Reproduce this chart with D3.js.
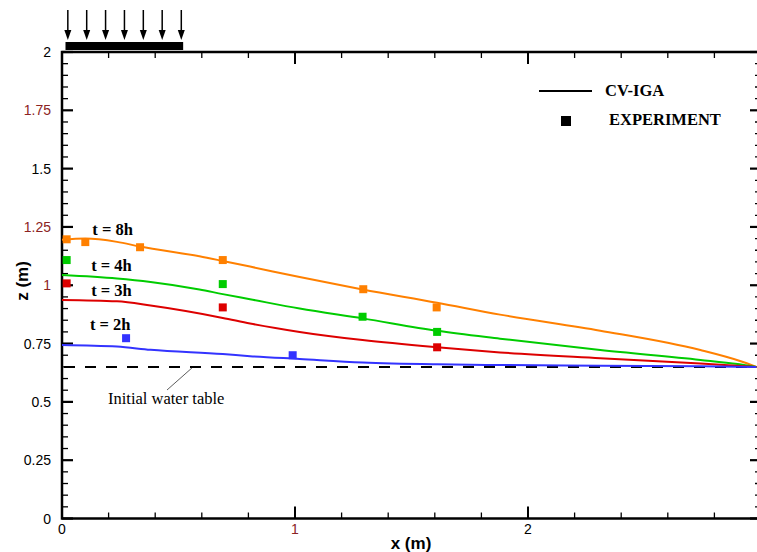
<!DOCTYPE html>
<html><head><meta charset="utf-8">
<script src="https://cdn.jsdelivr.net/npm/d3@7"></script>
<style>body{margin:0;background:#fff}</style>
</head><body>
<svg id="c" width="757" height="552"></svg>
<script>
// ---- data ----
const seriesNames = ["t = 8h", "t = 4h", "t = 3h", "t = 2h"];
const seriesColors = ["#ff8000", "#00cc00", "#dd0000", "#3333ff"];
const curve8h = [[0,1.195],[0.1,1.2],[0.236,1.186],[0.335,1.166],[0.59,1.124],[0.69,1.104],[0.807,1.08],[1.02,1.035],[1.29,0.982],[1.61,0.925],[1.88,0.874],[2.31,0.805],[2.74,0.722],[2.91,0.675],[2.98,0.65]];
const curve4h = [[0,1.044],[0.236,1.029],[0.38,1.014],[0.59,0.982],[0.69,0.962],[0.807,0.94],[1.02,0.9],[1.29,0.858],[1.61,0.805],[1.88,0.771],[2.31,0.722],[2.74,0.68],[2.9,0.662],[2.98,0.65]];
const curve3h = [[0,0.937],[0.236,0.931],[0.38,0.913],[0.69,0.86],[0.807,0.836],[1.02,0.8],[1.29,0.765],[1.61,0.734],[1.88,0.712],[2.31,0.687],[2.74,0.664],[2.98,0.65]];
const curve2h = [[0,0.744],[0.236,0.737],[0.38,0.723],[0.69,0.705],[0.807,0.696],[1.02,0.684],[1.29,0.669],[1.61,0.661],[1.88,0.658],[2.31,0.655],[2.74,0.653],[2.98,0.65]];
const exp8h = [[0.02,1.197],[0.10,1.185],[0.335,1.163],[0.69,1.108],[1.293,0.983],[1.608,0.905]];
const exp4h = [[0.02,1.108],[0.69,1.005],[1.29,0.865],[1.61,0.80]];
const exp3h = [[0.02,1.008],[0.69,0.905],[1.61,0.734]];
const exp2h = [[0.275,0.773],[0.99,0.70]];
const labelPos = [[0.13,1.215],[0.125,1.06],[0.125,0.953],[0.12,0.81]];
const waterTable = 0.65;
const rainBar = [0.015, 0.52];
const rainArrows = [0.025, 0.106, 0.187, 0.268, 0.349, 0.43, 0.512];
const xTicks = [0, 1, 2, 3];
const yTicks = [0, 0.25, 0.5, 0.75, 1, 1.25, 1.5, 1.75, 2];
const redTickX = [1, 3];
const redTickY = [1, 1.25, 1.75];

const curves = [curve8h, curve4h, curve3h, curve2h];
const exps = [exp8h, exp4h, exp3h, exp2h];

// ---- layout ----
const svg = d3.select("#c");
const x = d3.scaleLinear().domain([0, 3]).range([62, 761]);
const y = d3.scaleLinear().domain([0, 2]).range([518.5, 52]);
const X0 = x(0), X1 = x(3), Y0 = y(0), Y1 = y(2);
const fontSans = "'Liberation Sans', Arial, sans-serif";
const fontSerif = "'Liberation Serif', 'Times New Roman', serif";

const xMinor = d3.range(0, 3.001, 0.2).filter(v => Math.abs(v - Math.round(v)) > 1e-6);
const yMinor = d3.range(0, 2.001, 0.05).filter(v => Math.abs(v*4 - Math.round(v*4)) > 1e-6);
const g = svg.append("g").attr("stroke", "#000");
function tick(x1,y1,x2,y2,w){g.append("line").attr("x1",x1).attr("y1",y1).attr("x2",x2).attr("y2",y2).attr("stroke-width",w);}
xMinor.forEach(v => { tick(x(v),Y0,x(v),Y0-6,1.3); tick(x(v),Y1,x(v),Y1+6,1.3); });
xTicks.forEach(v => { tick(x(v),Y0,x(v),Y0-12,2); tick(x(v),Y1,x(v),Y1+12,2); });
yMinor.forEach(v => { tick(X0,y(v),X0+6,y(v),1.3); tick(X1,y(v),X1-6,y(v),1.3); });
yTicks.forEach(v => { tick(X0,y(v),X0+11,y(v),2.2); tick(X1,y(v),X1-11,y(v),2.2); });

svg.append("rect").attr("x",X0).attr("y",Y1).attr("width",X1-X0).attr("height",Y0-Y1)
  .attr("fill","none").attr("stroke","#000").attr("stroke-width",2.5);

svg.append("g").selectAll("text").data(xTicks).join("text")
  .attr("x", d => x(d)).attr("y", 534).attr("text-anchor","middle")
  .attr("font-family", fontSans).attr("font-size", 14)
  .attr("fill", d => redTickX.includes(d) ? "#8b2323" : "#000")
  .text(d => d3.format("~g")(d));
svg.append("g").selectAll("text").data(yTicks).join("text")
  .attr("x", 51).attr("y", d => y(d) + 5).attr("text-anchor","end")
  .attr("font-family", fontSans).attr("font-size", 14)
  .attr("fill", d => redTickY.includes(d) ? "#8b2323" : "#000")
  .text(d => d3.format("~g")(d));

svg.append("text").attr("x", 411).attr("y", 549).attr("text-anchor","middle")
  .attr("font-family", fontSans).attr("font-size", 17).attr("font-weight","bold").text("x (m)");
svg.append("text").attr("transform","translate(28,281) rotate(-90)").attr("text-anchor","middle")
  .attr("font-family", fontSans).attr("font-size", 17).attr("font-weight","bold").text("z (m)");

svg.append("line").attr("x1", X0+2).attr("x2", 757).attr("y1", y(waterTable)).attr("y2", y(waterTable))
  .attr("stroke","#000").attr("stroke-width",2).attr("stroke-dasharray","11,10");
svg.append("line").attr("x1",167).attr("y1",390).attr("x2",192).attr("y2",y(waterTable)+1)
  .attr("stroke","#333").attr("stroke-width",0.8);
svg.append("text").attr("x",108).attr("y",404).attr("font-family",fontSerif).attr("font-size",16.5)
  .text("Initial water table");

const line = d3.line().x(d => x(d[0])).y(d => y(d[1])).curve(d3.curveMonotoneX);
curves.forEach((c,i) => {
  svg.append("path").datum(c).attr("d", line).attr("fill","none")
    .attr("stroke", seriesColors[i]).attr("stroke-width", 2);
});
exps.forEach((e,i) => {
  svg.append("g").selectAll("rect").data(e).join("rect")
    .attr("x", d => x(d[0]) - 4).attr("y", d => y(d[1]) - 4)
    .attr("width", 8).attr("height", 8).attr("fill", seriesColors[i]);
});
svg.append("g").selectAll("text").data(seriesNames).join("text")
  .attr("x", (d,i) => x(labelPos[i][0])).attr("y", (d,i) => y(labelPos[i][1]))
  .attr("font-family", fontSerif).attr("font-size", 16.5).attr("font-weight","bold")
  .text(d => d);

svg.append("line").attr("x1",539).attr("x2",592).attr("y1",91).attr("y2",91).attr("stroke","#000").attr("stroke-width",2);
svg.append("text").attr("x",605).attr("y",96).attr("font-family",fontSerif).attr("font-size",16.5).attr("font-weight","bold").text("CV-IGA");
svg.append("rect").attr("x",561).attr("y",116).attr("width",10).attr("height",10).attr("fill","#000");
svg.append("text").attr("x",609).attr("y",125).attr("font-family",fontSerif).attr("font-size",16.5).attr("font-weight","bold").text("EXPERIMENT");

svg.append("rect").attr("x", x(rainBar[0])).attr("y", 42).attr("width", x(rainBar[1]) - x(rainBar[0])).attr("height", 8).attr("fill","#000");
rainArrows.forEach(v => {
  const cx = x(v);
  svg.append("line").attr("x1",cx).attr("x2",cx).attr("y1",10).attr("y2",32).attr("stroke","#000").attr("stroke-width",1.5);
  svg.append("path").attr("d", `M${cx-3.5},30 L${cx+3.5},30 L${cx},40 Z`).attr("fill","#000");
});
</script>
</body></html>
